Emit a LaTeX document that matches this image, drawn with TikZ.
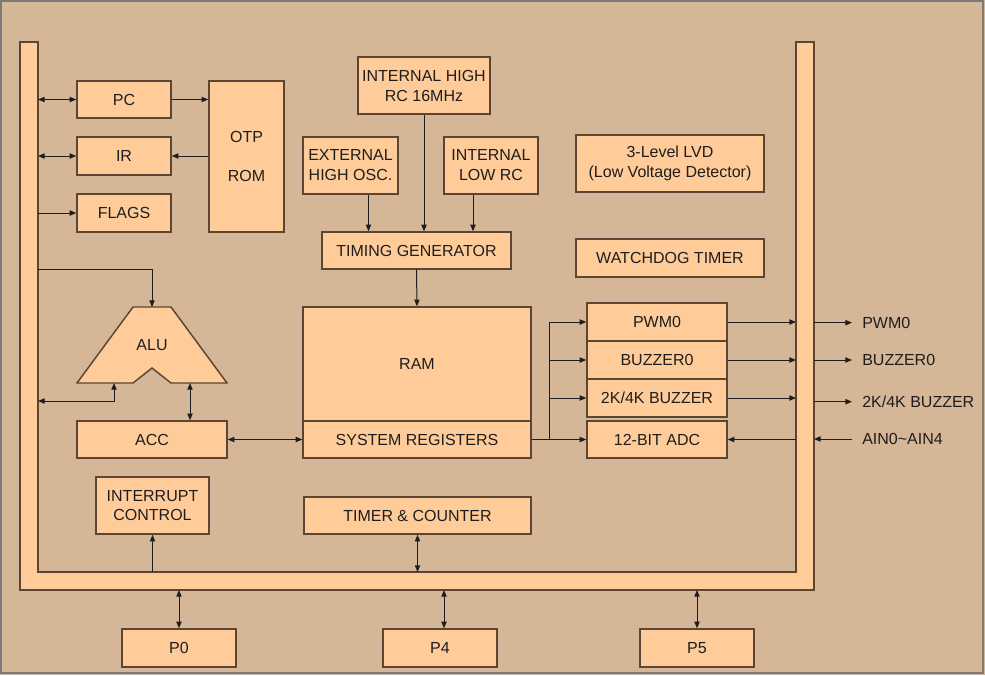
\documentclass[tikz,border=0pt]{standalone}
\usepackage{fontspec}
\setmainfont{Liberation Sans}
\usetikzlibrary{arrows.meta}
\definecolor{bgtan}{HTML}{D5B697}
\definecolor{boxfill}{HTML}{FFCC99}
\definecolor{boxline}{HTML}{5A4632}
\definecolor{frameline}{HTML}{7A7A7A}
\definecolor{inkline}{HTML}{1E1E1E}
\begin{document}
\begin{tikzpicture}[x=0.75pt, y=-0.75pt,
    blk/.style={draw=boxline, fill=boxfill, line width=1.1pt, inner sep=0pt, align=center, text=inkline},
    sz/.style 2 args={minimum width=#1*0.75pt, minimum height=#2*0.75pt},
    wire/.style={draw=inkline, line width=0.75pt},
    arr/.style={wire, -{Triangle[length=5pt,width=4pt]}},
    darr/.style={wire, {Triangle[length=5pt,width=4pt]}-{Triangle[length=5pt,width=4pt]}},
    pin/.style={anchor=west, inner sep=7.5pt, text=inkline},
    every node/.append style={font=\fontsize{12}{15}\selectfont}]
	\useasboundingbox (0,0) rectangle (985,675);
	\fill[bgtan] (0,0) rectangle (985,675);
	\draw[frameline, line width=1.1pt] (1,1) rectangle (983,673);
	
	% bus
	\draw[blk] (20,42) -- (38,42) -- (38,572) -- (796,572) -- (796,42) -- (814,42) -- (814,590) -- (20,590) -- cycle;
	\coordinate (busL) at (38,0);  \coordinate (busR) at (796,0);  \coordinate (busRo) at (814,0);
	\coordinate (busB) at (0,572); \coordinate (busBo) at (0,590); \coordinate (split) at (549,0);
	
	% left column
	\node[blk, sz={94}{37}] (pc) at (124,99.5) {PC};
	\node[blk, sz={94}{38}] (ir) at (124,156) {IR};
	\node[blk, sz={94}{38}] (flags) at (124,213) {FLAGS};
	\node[blk, sz={75}{151}] (otp) at (246.5,156.5) {OTP\\[14pt]ROM};
	
	\draw[blk] (133,307) -- (171,307) -- (227,383) -- (171,383) -- (152,368) -- (133,383) -- (77,383) -- cycle;
	\node[text=inkline] (alu) at (152,345) {ALU};
	\coordinate (alutop) at (152,307); \coordinate (aluA) at (114,383); \coordinate (aluB) at (190,383);
	\coordinate (aluin) at (38,269);   \coordinate (accbus) at (38,401);
	
	\node[blk, sz={150}{37}] (acc) at (152,439.5) {ACC};
	\node[blk, sz={113}{57}, font=\fontsize{12}{14.5}\selectfont] (intc) at (152.5,505.5) {INTERRUPT\\CONTROL};
	
	% clocks
	\node[blk, sz={132}{57}] (ihigh) at (424,85.5) {INTERNAL HIGH\\RC 16MHz};
	\node[blk, sz={95}{57}] (ext) at (350.5,165.5) {EXTERNAL\\HIGH OSC.};
	\node[blk, sz={94}{57}] (ilow) at (491,165.5) {INTERNAL\\LOW RC};
	\node[blk, sz={189}{37}] (tg) at (416.5,250.5) {TIMING GENERATOR};
	
	% memory
	\node[blk, sz={228}{114}] (ram) at (417,364) {RAM};
	\node[blk, sz={228}{37}] (sysreg) at (417,439.5) {SYSTEM REGISTERS};
	\node[blk, sz={227}{37}] (timer) at (417.5,515.5) {TIMER \& COUNTER};
	
	% right column
	\node[blk, sz={188}{57}] (lvd) at (670,163.5) {3-Level LVD\\(Low Voltage Detector)};
	\node[blk, sz={188}{38}] (wdt) at (670,258) {WATCHDOG TIMER};
	\node[blk, sz={140}{38}] (pwm) at (657,322) {PWM0};
	\node[blk, sz={140}{38}] (buz) at (657,360) {BUZZER0};
	\node[blk, sz={140}{38}] (bzk) at (657,398) {2K/4K BUZZER};
	\node[blk, sz={140}{37}] (adc) at (657,439.5) {12-BIT ADC};
	
	\node[pin] (lpwm) at (852,322.7) {PWM0};
	\node[pin] (lbuz) at (852,360) {BUZZER0};
	\node[pin] (lbzk) at (852,401.7) {2K/4K BUZZER};
	\node[pin] (lain) at (852,439) {AIN0\textasciitilde AIN4};
	
	% ports
	\node[blk, sz={114}{38}] (p0) at (179,648) {P0};
	\node[blk, sz={114}{38}] (p4) at (440,648) {P4};
	\node[blk, sz={114}{38}] (p5) at (697,648) {P5};
	
	% connectors
	\draw[darr] (pc.west -| busL) -- (pc.west);
	\draw[arr] (pc.east) -- (pc.east -| otp.west);
	\draw[darr] (ir.west -| busL) -- (ir.west);
	\draw[arr] (ir.east -| otp.west) -- (ir.east);
	\draw[arr] (flags.west -| busL) -- (flags.west);
	\draw[arr] (aluin) -| (alutop);
	\draw[darr] (aluA) |- (accbus);
	\draw[darr] (aluB) -- (acc.north -| aluB);
	\draw[darr] (acc.east) -- (sysreg.west);
	
	\draw[arr] ([xshift=13.5pt]ext.south) -- ([xshift=13.5pt]ext.south |- tg.north);
	\draw[arr] (ihigh.south) -- (ihigh.south |- tg.north);
	\draw[arr] ([xshift=-13.5pt]ilow.south) -- ([xshift=-13.5pt]ilow.south |- tg.north);
	\draw[arr] (tg.south) -- (ram.north);
	
	\draw[arr] (sysreg.east |- adc.west) -- (adc.west);
	\draw[wire] (split |- adc.west) -- (split |- pwm.west);
	\draw[arr] (split |- pwm.west) -- (pwm.west);
	\draw[arr] (split |- buz.west) -- (buz.west);
	\draw[arr] (split |- bzk.west) -- (bzk.west);
	
	\draw[arr] (pwm.east) -- (pwm.east -| busR);
	\draw[arr] (buz.east) -- (buz.east -| busR);
	\draw[arr] (bzk.east) -- (bzk.east -| busR);
	\draw[arr] (adc.east -| busR) -- (adc.east);
	\draw[arr] (lpwm.west -| busRo) -- (lpwm.west);
	\draw[arr] (lbuz.west -| busRo) -- (lbuz.west);
	\draw[arr] (lbzk.west -| busRo) -- (lbzk.west);
	\draw[arr] (lain.west) -- (lain.west -| busRo);
	
	\draw[arr] (intc.south |- busB) -- (intc.south);
	\draw[darr] (timer.south) -- (timer.south |- busB);
	\draw[darr] (p0.north) -- (p0.north |- busBo);
	\draw[darr] ([xshift=3pt]p4.north) -- ([xshift=3pt]p4.north |- busBo);
	\draw[darr] (p5.north) -- (p5.north |- busBo);
\end{tikzpicture}
\end{document}
